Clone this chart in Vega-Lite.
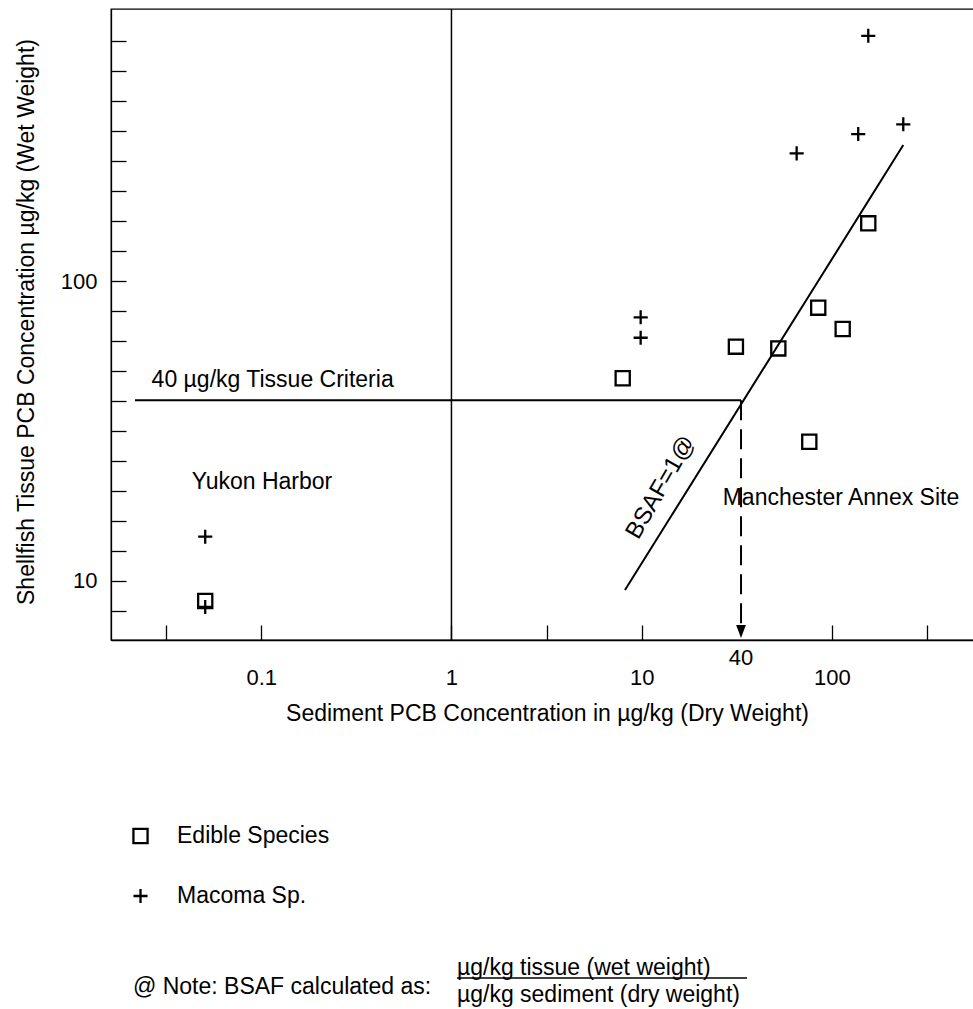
{
  "$schema": "https://vega.github.io/schema/vega-lite/v6.json",
  "width": 863,
  "height": 631,
  "autosize": {"type": "none"},
  "padding": {"left": 111, "top": 9, "right": 0, "bottom": 369},
  "background": "white",
  "config": {
    "font": "Liberation Sans",
    "view": {"stroke": "black", "strokeWidth": 1.3},
    "axis": {
      "grid": false,
      "domainColor": "black",
      "tickColor": "black",
      "domainWidth": 1.3,
      "tickWidth": 1.3,
      "labelColor": "black",
      "titleColor": "black",
      "titleFontWeight": "normal",
      "labelFont": "Liberation Sans",
      "titleFont": "Liberation Sans",
      "labelOverlap": false,
      "labelFlush": false
    },
    "text": {"font": "Liberation Sans", "fontSize": 23, "color": "black"}
  },
  "encoding": {
    "x": {
      "field": "x",
      "type": "quantitative",
      "scale": {"type": "log", "domain": [0.01622, 558.9]},
      "axis": {
        "title": "Sediment PCB Concentration in µg/kg (Dry Weight)",
        "values": [0.03162, 0.1, 1, 3.162, 10, 100, 316.2],
        "labelExpr": "datum.value == 0.1 ? '0.1' : datum.value == 1 ? '1' : datum.value == 10 ? '10' : datum.value == 100 ? '100' : ''",
        "tickSize": -15,
        "labelPadding": 59,
        "labelBaseline": "alphabetic",
        "labelFontSize": 22,
        "titleFontSize": 23,
        "titleX": 436,
        "titleY": 80,
        "titleBaseline": "alphabetic"
      }
    },
    "y": {
      "field": "y",
      "type": "quantitative",
      "scale": {"type": "log", "domain": [6.346, 808.4]},
      "axis": {
        "title": "Shellfish Tissue PCB Concentration µg/kg (Wet Weight)",
        "values": [7.943, 10, 12.589, 15.849, 19.953, 25.119, 31.623, 39.811, 50.119, 63.096, 79.433, 100, 125.89, 158.49, 199.53, 251.19, 316.23, 398.11, 501.19, 630.96],
        "labelExpr": "datum.value == 10 ? '10' : datum.value == 100 ? '100' : ''",
        "tickSize": -15,
        "labelPadding": 29,
        "labelFontSize": 22,
        "titleFontSize": 23,
        "titleX": -78,
        "titleY": 312.5,
        "titleBaseline": "alphabetic"
      }
    }
  },
  "layer": [
    {
      "data": {"values": [{"x": 1}]},
      "mark": {"type": "rule", "color": "black", "strokeWidth": 1.5},
      "encoding": {"y": {"value": 0}, "y2": {"value": "height"}}
    },
    {
      "data": {"values": [{"x": 0.02168, "x2": 33.3, "y": 40}]},
      "mark": {"type": "rule", "color": "black", "strokeWidth": 2},
      "encoding": {"x2": {"field": "x2"}}
    },
    {
      "data": {"values": [{"x": 8.17, "y": 9.32}, {"x": 237.4, "y": 284.3}]},
      "mark": {"type": "line", "color": "black", "strokeWidth": 2},
      "encoding": {}
    },
    {
      "data": {"values": [{"x": 33.3, "y": 40, "y2": 7.07}]},
      "mark": {"type": "rule", "color": "black", "strokeWidth": 2, "strokeDash": [20, 9]},
      "encoding": {"y2": {"field": "y2"}}
    },
    {
      "data": {"values": [{"x": 33.3, "y": 6.774}]},
      "mark": {"type": "point", "shape": "M-0.75,-1L0.75,-1L0,1Z", "filled": true, "color": "black", "size": 169, "opacity": 1}
    },
    {
      "data": {"values": [
        {"species": "Edible Species", "x": 0.05075, "y": 8.56},
        {"species": "Edible Species", "x": 7.95, "y": 47.4},
        {"species": "Edible Species", "x": 31.3, "y": 60.4},
        {"species": "Edible Species", "x": 52.3, "y": 59.6},
        {"species": "Edible Species", "x": 84.8, "y": 81.5},
        {"species": "Edible Species", "x": 114, "y": 69.2},
        {"species": "Edible Species", "x": 155.4, "y": 155.8},
        {"species": "Edible Species", "x": 76.1, "y": 29.1},
        {"species": "Macoma Sp.", "x": 0.05075, "y": 14.03},
        {"species": "Macoma Sp.", "x": 0.05075, "y": 8.18},
        {"species": "Macoma Sp.", "x": 9.88, "y": 75.7},
        {"species": "Macoma Sp.", "x": 9.88, "y": 64.7},
        {"species": "Macoma Sp.", "x": 65.3, "y": 266.8},
        {"species": "Macoma Sp.", "x": 137.6, "y": 309.4},
        {"species": "Macoma Sp.", "x": 155.4, "y": 658},
        {"species": "Macoma Sp.", "x": 237.4, "y": 333.4}
      ]},
      "mark": {"type": "point", "filled": false, "color": "black", "strokeWidth": 2.3, "size": 200, "opacity": 1},
      "encoding": {
        "shape": {
          "field": "species",
          "type": "nominal",
          "scale": {"domain": ["Edible Species", "Macoma Sp."], "range": ["square", "M-1,0L1,0M0,-1L0,1"]},
          "legend": {
            "title": null,
            "orient": "none",
            "legendX": 18,
            "legendY": 815.5,
            "padding": 0,
            "labelFontSize": 23,
            "labelFont": "Liberation Sans",
            "labelColor": "black",
            "labelOffset": 25,
            "rowPadding": 35,
            "symbolSize": 200,
            "symbolStrokeWidth": 2.3,
            "symbolStrokeColor": "black",
            "symbolFillColor": "transparent"
          }
        }
      }
    },
    {
      "data": {"values": [
        {"x": 0.02652, "y": 46.77, "label": "40 µg/kg Tissue Criteria"},
        {"x": 0.04305, "y": 21.31, "label": "Yukon Harbor"},
        {"x": 26.67, "y": 18.85, "label": "Manchester Annex Site"},
        {"x": 0.02116, "y": 0.4413, "label": "@ Note: BSAF calculated as:"},
        {"x": 1.069, "y": 0.5107, "label": "µg/kg tissue (wet weight)"},
        {"x": 1.069, "y": 0.415, "label": "µg/kg sediment (dry weight)"}
      ]},
      "mark": {"type": "text", "align": "left", "baseline": "middle", "fontSize": 23},
      "encoding": {"text": {"field": "label"}}
    },
    {
      "data": {"values": [{"x": 33.3, "y": 5.53, "label": "40"}]},
      "mark": {"type": "text", "align": "center", "baseline": "middle", "fontSize": 22},
      "encoding": {"text": {"field": "label"}}
    },
    {
      "data": {"values": [{"x": 12.6, "y": 20.5, "label": "BSAF=1@"}]},
      "mark": {"type": "text", "align": "center", "baseline": "middle", "fontSize": 24, "angle": 300},
      "encoding": {"text": {"field": "label"}}
    },
    {
      "data": {"values": [{"x": 1.069, "x2": 35.8, "y": 0.473}]},
      "mark": {"type": "rule", "color": "black", "strokeWidth": 1.5},
      "encoding": {"x2": {"field": "x2"}}
    }
  ]
}
